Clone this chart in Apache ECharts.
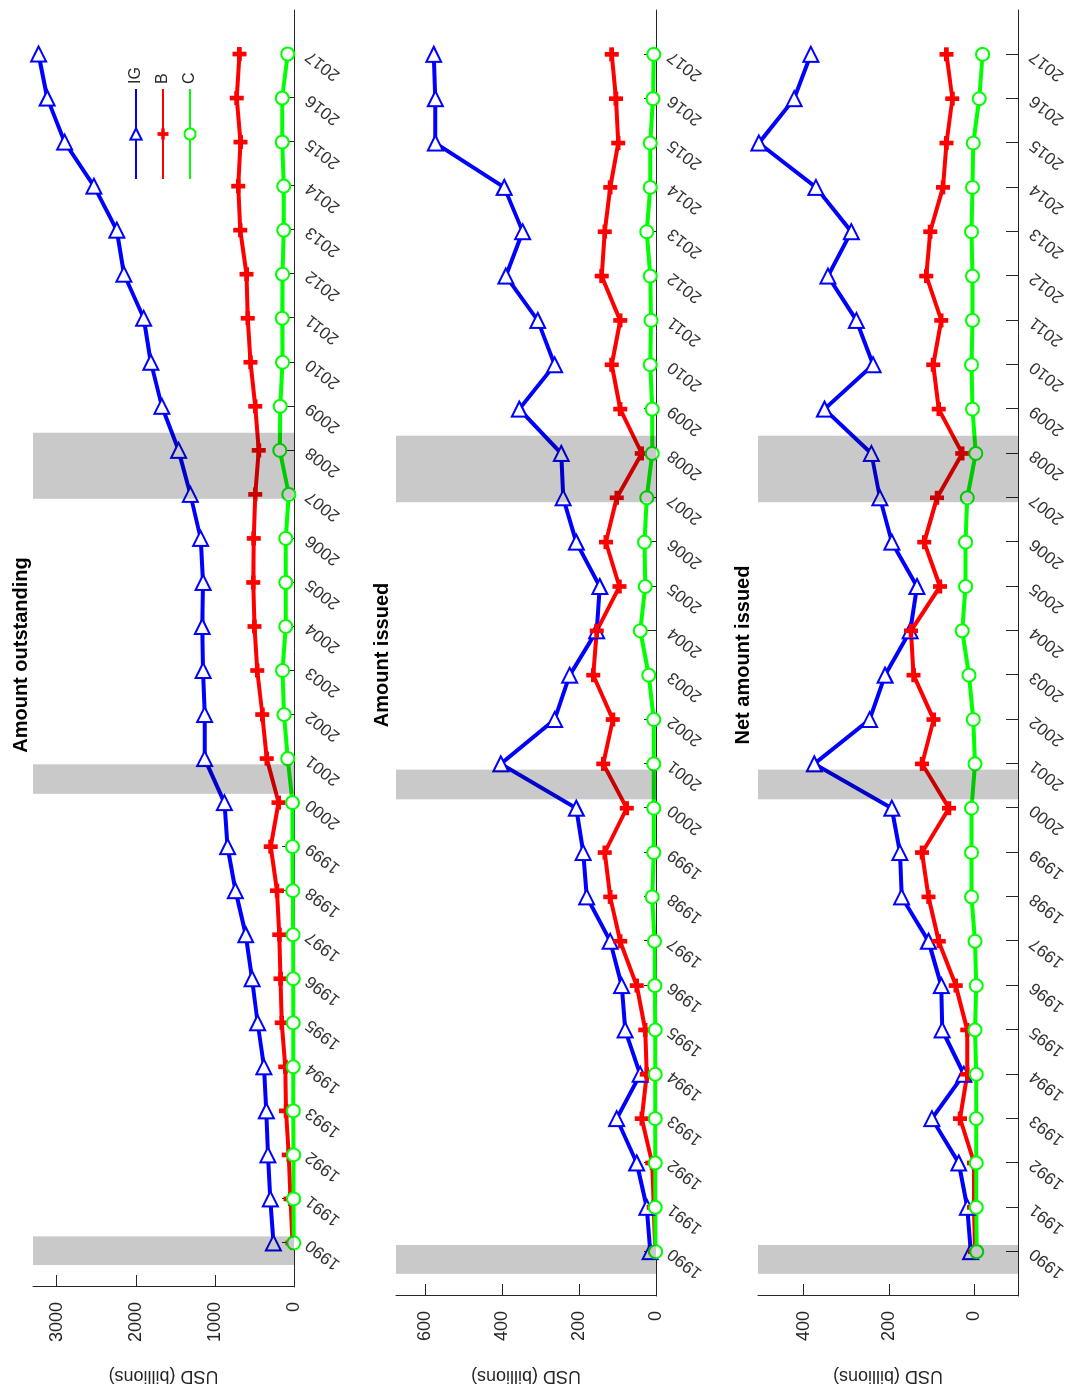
<!DOCTYPE html>
<html>
<head>
<meta charset="utf-8">
<script src="https://cdn.jsdelivr.net/npm/echarts@6/dist/echarts.min.js"></script>
<style>
html,body{margin:0;padding:0;width:1078px;height:1393px;overflow:hidden;background:#fff;}
#chart{position:absolute;left:0;top:0;width:1393px;height:1078px;transform-origin:0 0;transform:translateY(1393px) rotate(-90deg);}
</style>
</head>
<body>
<div id="chart"></div>
<script>
// ---------------- data ----------------
const years = [1990,1991,1992,1993,1994,1995,1996,1997,1998,1999,2000,2001,2002,2003,2004,2005,2006,2007,2008,2009,2010,2011,2012,2013,2014,2015,2016,2017];
const seriesNames = ['IG','B','C'];
const panelTitles = ['Amount outstanding','Amount issued','Net amount issued'];
const recessions = [[1989.5,1990.15],[2000.2,2000.87],[2006.9,2008.4]];

const igOutstanding = [260,300,330,350,380,460,530,610,740,840,880,1130,1130,1150,1160,1150,1180,1310,1460,1670,1810,1900,2150,2240,2530,2900,3120,3230];
const bOutstanding  = [20,45,65,100,110,155,170,185,215,295,195,345,400,465,500,515,510,490,445,490,550,585,600,680,705,675,725,690];
const cOutstanding  = [3,5,5,8,10,10,10,12,15,20,20,80,125,145,105,105,105,65,180,175,145,150,145,130,130,150,150,80];

const igIssued = [15,24,50,102,41,80,89,119,180,189,207,403,263,224,154,146,207,241,246,355,263,307,390,346,394,573,573,577];
const bIssued  = [2,6,10,37,24,28,50,93,119,133,76,137,112,163,154,95,130,102,37,93,115,93,141,133,119,98,104,115];
const cIssued  = [1,2,2,2,2,2,3,4,10,6,6,6,6,19,41,28,30,24,10,10,15,13,15,24,15,15,8,6];

const igNet = [8,16,36,99,24,75,77,107,170,174,193,375,245,209,150,134,193,221,241,351,237,276,343,288,371,505,422,383];
const bNet  = [-2,0,0,33,16,16,43,83,107,122,59,122,95,142,148,80,117,87,28,83,96,77,112,103,73,65,51,65];
const cNet  = [-6,-5,-5,-5,-5,-2,-5,-2,6,6,6,-2,2,12,28,20,20,16,-4,4,6,4,4,6,4,2,-12,-20];

const outstandingTicks = [0,1000,2000,3000];
const issuedTicks = [0,200,400,600];
const netTicks = [0,200,400];
const outstandingRange = [0,3300];
const issuedRange = [0,675];
const netRange = [-103,507];

// ---------------- chart ----------------
const FONT = '"Liberation Sans", Arial, Helvetica, sans-serif';
const AX = '#262626';
const panels = [
  {title: panelTitles[0], data: [igOutstanding,bOutstanding,cOutstanding], ticks: outstandingTicks, range: outstandingRange, top: 33, height: 261, nameGap: 80, titleTop: 6},
  {title: panelTitles[1], data: [igIssued,bIssued,cIssued], ticks: issuedTicks, range: issuedRange, top: 396, height: 260, nameGap: 71, titleTop: 367},
  {title: panelTitles[2], data: [igNet,bNet,cNet], ticks: netTicks, range: netRange, top: 758, height: 260, nameGap: 71, titleTop: 728}
];
const colors = ['#0000ff','#ff0000','#00ff00'];
const symbols = ['emptyTriangle','path://M4 0H8V4H12V8H8V12H4V8H0V4H4Z','emptyCircle'];
const symbolRotates = [-90,0,0];
const symbolSizes = [15,14,13];
const borderWidths = [4,0,4];

function pairs(vals){ return years.map((y,i)=>[y, vals[i]]); }

const grid = [], xAxis = [], yAxis = [], series = [], title = [];
panels.forEach((p, pi) => {
  grid.push({left: 96, right: 10, top: p.top, height: p.height});
  title.push({text: p.title, left: 733, top: p.titleTop, textAlign: 'center',
    textStyle: {fontFamily: FONT, fontSize: 20, fontWeight: 'bold', color: '#000'}});
  xAxis.push({
    type: 'value', gridIndex: pi, min: 1989, max: 2018,
    axisLine: {show: true, onZero: false, lineStyle: {color: AX, width: 1}},
    axisTick: {show: true, inside: true, length: 12, customValues: years, lineStyle: {color: AX}},
    axisLabel: {customValues: years, rotate: 52, margin: 14, fontSize: 17, fontFamily: FONT, color: '#333', formatter: v => String(v)},
    splitLine: {show: false}
  });
  yAxis.push({
    type: 'value', gridIndex: pi, min: p.range[0], max: p.range[1],
    name: 'USD (billions)', nameLocation: 'middle', nameGap: p.nameGap,
    nameTextStyle: {fontSize: 18, fontFamily: FONT, color: AX},
    axisLine: {show: true, onZero: false, lineStyle: {color: AX, width: 1}},
    axisTick: {show: true, inside: true, length: 12, customValues: p.ticks, lineStyle: {color: AX}},
    axisLabel: {customValues: p.ticks, margin: 15, fontSize: 18, fontFamily: FONT, color: AX, formatter: v => String(v)},
    splitLine: {show: false}
  });
  p.data.forEach((vals, si) => {
    const s = {
      name: seriesNames[si], type: 'line', xAxisIndex: pi, yAxisIndex: pi,
      data: pairs(vals),
      symbol: symbols[si], symbolSize: symbolSizes[si], symbolRotate: symbolRotates[si],
      showAllSymbol: true,
      lineStyle: {color: colors[si], width: 4},
      itemStyle: {color: colors[si], borderColor: colors[si], borderWidth: borderWidths[si]},
      animation: false
    };
    if (si === 2) {
      s.markArea = {
        silent: true, z: 10,
        itemStyle: {color: 'rgba(0,0,0,0.21)', borderWidth: 0},
        data: recessions.map(r => [{xAxis: r[0]}, {xAxis: r[1]}])
      };
    }
    series.push(s);
  });
});

const chart = echarts.init(document.getElementById('chart'), null, {renderer: 'canvas'});
chart.setOption({
  animation: false,
  backgroundColor: '#fff',
  textStyle: {fontFamily: FONT},
  title: title,
  legend: {
    data: seriesNames, orient: 'vertical', left: 1213, top: 128,
    itemWidth: 90, itemHeight: 14, itemGap: 11, padding: 0,
    textStyle: {fontSize: 16, fontFamily: FONT, color: AX, lineHeight: 16}
  },
  grid: grid, xAxis: xAxis, yAxis: yAxis, series: series
});
</script>
</body>
</html>
